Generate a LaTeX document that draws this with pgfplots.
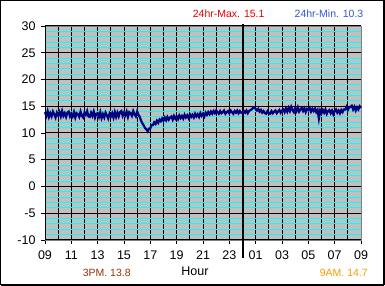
\documentclass[border=0pt]{standalone}
\usepackage{pgfplots}
\pgfplotsset{compat=1.18}
\usepackage{fontspec}
\setmainfont{Liberation Sans}
\definecolor{plotbg}{RGB}{192,192,192}
\definecolor{cyanline}{RGB}{0,255,255}
\definecolor{navyline}{RGB}{0,0,128}
\definecolor{maxred}{RGB}{230,0,0}
\definecolor{minblue}{RGB}{51,85,221}
\definecolor{pmbrown}{RGB}{153,51,0}
\definecolor{amorange}{RGB}{255,153,0}
\pgfplotstableread{
x y
0.0 13.9
0.1 13.2
0.2 14.1
0.3 13.0
0.4 13.7
0.5 13.1
0.6 14.0
0.7 13.5
0.8 12.9
0.9 13.8
1.0 13.3
1.1 13.9
1.2 13.1
1.3 14.1
1.4 13.2
1.5 13.7
1.6 13.0
1.7 13.8
1.8 14.0
1.9 13.1
2.0 13.6
2.1 13.1
2.2 13.9
2.3 12.9
2.4 13.7
2.5 13.5
2.6 13.0
2.7 14.0
2.8 13.2
2.9 12.9
3.0 13.8
3.1 13.4
3.2 14.1
3.3 13.1
3.4 13.0
3.5 13.8
3.6 13.2
3.7 14.0
3.8 12.9
3.9 13.6
4.0 13.7
4.1 13.0
4.2 13.9
4.3 12.8
4.4 13.5
4.5 12.9
4.6 13.8
4.7 13.3
4.8 12.7
4.9 13.6
5.0 13.1
5.1 13.7
5.2 12.9
5.3 13.9
5.4 13.0
5.5 13.8
5.6 13.1
5.7 13.9
5.8 14.1
5.9 13.2
6.0 13.8
6.1 13.3
6.2 14.0
6.3 13.0
6.4 13.9
6.5 13.7
6.6 13.2
6.7 14.1
6.8 13.5
6.9 13.1
7.0 14.0
7.1 13.4
7.2 13.0
7.3 12.3
7.4 11.8
7.5 11.4
7.6 10.9
7.7 10.7
7.8 10.3
7.9 10.8
8.0 10.9
8.1 11.5
8.2 11.5
8.3 12.0
8.4 11.7
8.5 12.3
8.6 11.9
8.7 12.5
8.8 12.2
8.9 12.7
9.0 12.3
9.1 12.9
9.2 12.4
9.3 13.0
9.4 12.5
9.5 12.9
9.6 13.1
9.7 12.5
9.8 13.2
9.9 12.7
10.0 13.1
10.1 12.6
10.2 13.3
10.3 12.8
10.4 13.2
10.5 12.7
10.6 13.4
10.7 12.9
10.8 13.3
10.9 12.8
11.0 13.5
11.1 13.0
11.2 13.4
11.3 12.9
11.4 13.6
11.5 13.1
11.6 13.5
11.7 13.0
11.8 13.7
11.9 13.2
12.0 13.6
12.1 13.1
12.2 13.8
12.3 13.4
12.4 13.9
12.5 13.5
12.6 14.0
12.7 13.6
12.8 14.1
12.9 13.7
13.0 14.2
13.1 13.9
13.2 13.6
13.3 14.1
13.4 13.7
13.5 13.9
13.6 14.2
13.7 13.6
13.8 13.9
13.9 14.1
14.0 13.7
14.1 14.2
14.2 13.9
14.3 13.6
14.4 14.1
14.5 13.8
14.6 14.2
14.7 13.7
14.8 14.1
14.9 13.8
15.0 13.7
15.1 14.1
15.2 13.8
15.3 14.2
15.4 13.7
15.5 14.1
15.6 14.3
15.7 14.4
15.8 14.7
15.9 14.8
16.0 14.5
16.1 14.2
16.2 14.5
16.3 14.0
16.4 14.3
16.5 13.8
16.6 14.1
16.7 13.7
16.8 13.6
16.9 14.1
17.0 13.7
17.1 13.6
17.2 14.1
17.3 13.7
17.4 14.0
17.5 14.2
17.6 13.7
17.7 14.0
17.8 14.3
17.9 13.8
18.0 14.2
18.1 14.4
18.2 13.9
18.3 14.6
18.4 14.0
18.5 14.7
18.6 14.1
18.7 14.9
18.8 14.3
18.9 13.9
19.0 14.6
19.1 14.1
19.2 14.8
19.3 14.0
19.4 14.4
19.5 14.7
19.6 14.1
19.7 14.6
19.8 13.9
19.9 14.5
20.0 14.3
20.1 14.7
20.2 14.0
20.3 14.5
20.4 14.1
20.5 14.6
20.6 13.9
20.7 14.3
20.8 12.7
20.9 14.2
21.0 13.7
21.1 14.3
21.2 13.8
21.3 14.4
21.4 13.6
21.5 14.1
21.6 14.3
21.7 13.7
21.8 14.2
21.9 13.5
22.0 14.1
22.1 14.4
22.2 13.8
22.3 14.2
22.4 13.7
22.5 14.3
22.6 13.9
22.7 14.4
22.8 14.4
22.9 14.9
23.0 14.3
23.1 14.8
23.2 14.9
23.3 15.1
23.4 14.4
23.5 14.9
23.6 14.2
23.7 14.8
23.8 14.4
23.9 15.0
24.0 14.7
}\tempdata
\begin{document}
\begin{tikzpicture}[x=1pt,y=1pt]
\useasboundingbox (0,0) rectangle (385,286);
\fill[white] (0,0) rectangle (385,286);
\begin{axis}[
  at={(45pt,46pt)}, anchor=south west,
  scale only axis, width=316pt, height=214pt,
  xmin=0, xmax=24, ymin=-10, ymax=30,
  axis background/.style={fill=plotbg},
  xtick={0,2,...,24},
  xticklabels={09,11,13,15,17,19,21,23,01,03,05,07,09},
  minor x tick num=1,
  ytick={-10,-5,...,30},
  yticklabels={-10,-5,0,5,10,15,20,25,30},
  minor y tick num=4,
  grid=both,
  minor y grid style={draw=cyanline, line width=1pt},
  minor x grid style={draw=black, line width=1pt},
  major grid style={draw=black, line width=1pt},
  minor tick length=0pt,
  major tick length=4pt,
  tick align=outside,
  xtick pos=bottom, ytick pos=left,
  tick style={black, line width=0.8pt},
  axis line style={draw=gray, line width=0.8pt},
  tick label style={font=\fontsize{12.5}{14}\selectfont, text=black},
  xticklabel style={yshift=-3pt},
  yticklabel style={xshift=-2pt},
  clip=false,
]
\draw[black, line width=2pt] ([yshift=2pt]axis cs:15,30) -- ([yshift=-18pt]axis cs:15,-10);
\addplot[navyline, line width=2.2pt, line join=miter] table[x=x,y=y] {\tempdata};
\end{axis}
\draw[black, line width=1pt] (45,46) -- (45,260);
\draw[black, line width=1pt] (45,46) -- (361,46);
\node[text=maxred, font=\fontsize{10.5}{12}\selectfont] at (228.7,272) {24hr-Max. 15.1};
\node[text=minblue, font=\fontsize{10.5}{12}\selectfont] at (329,272) {24hr-Min. 10.3};
\node[text=pmbrown, font=\fontsize{10.5}{12}\selectfont] at (106.7,13.3) {3PM. 13.8};
\node[text=black, font=\fontsize{12.5}{14}\selectfont] at (195,15) {Hour};
\node[text=amorange, font=\fontsize{10.5}{12}\selectfont] at (343.8,13.3) {9AM. 14.7};
\draw[black, line width=1pt] (0.5,1.5) rectangle (383,285.5);
\draw[black, line width=1pt] (384,0.5) -- (384,285.5);
\draw[black, line width=1pt] (0.5,0.5) -- (384,0.5);
\end{tikzpicture}
\end{document}
